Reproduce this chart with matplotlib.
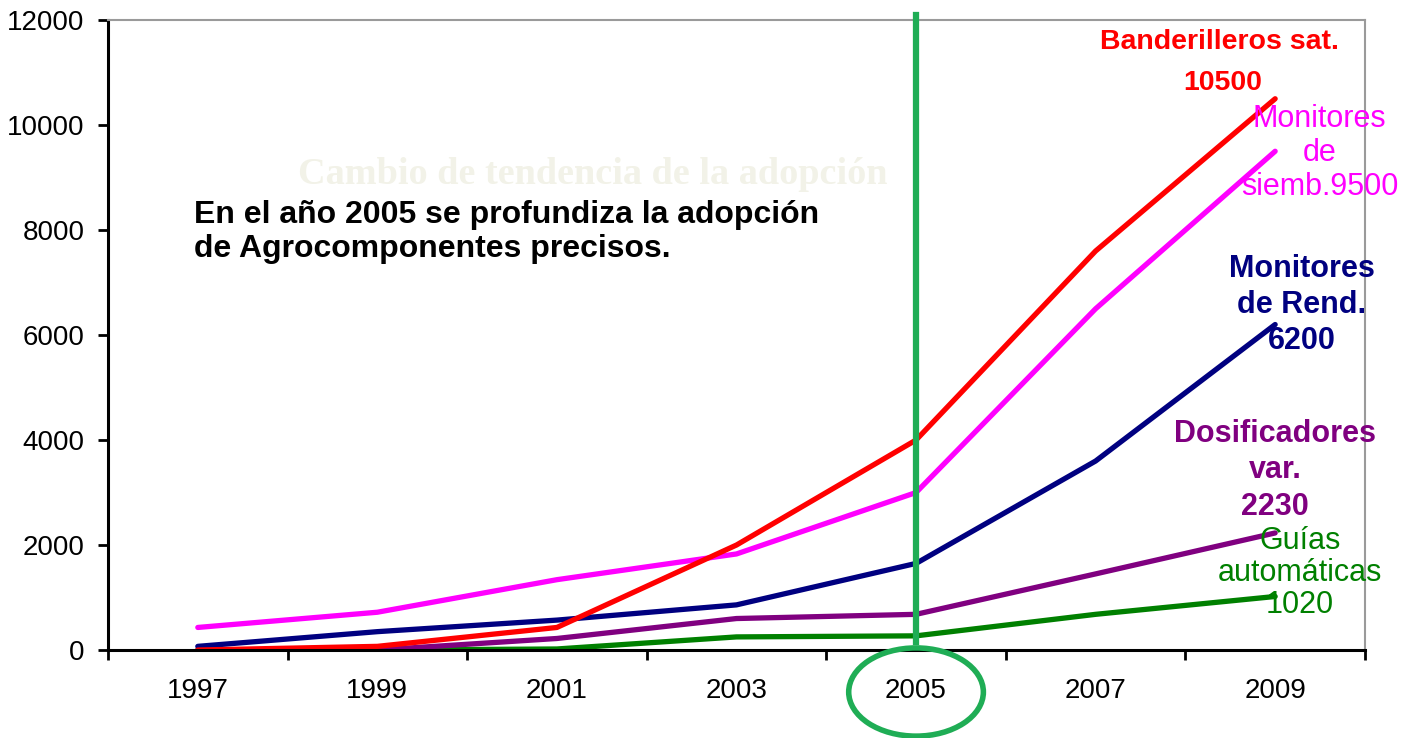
import matplotlib
matplotlib.use("Agg")
import matplotlib.pyplot as plt
from matplotlib.patches import Ellipse
from matplotlib.ticker import FixedLocator

plt.rcParams["font.family"] = ["Liberation Sans", "DejaVu Sans"]

# data
years = ["1997", "1999", "2001", "2003", "2005", "2007", "2009"]
banderilleros = [0, 70, 430, 2000, 4000, 7600, 10500]
monitores_siembra = [430, 720, 1340, 1830, 3000, 6500, 9500]
monitores_rend = [70, 350, 570, 860, 1650, 3600, 6200]
dosificadores = [0, 0, 220, 600, 680, 1450, 2230]
guias = [0, 0, 20, 250, 270, 680, 1020]
y_ticks = [0, 2000, 4000, 6000, 8000, 10000, 12000]

highlight_year = "2005"
accent = "#1FAD55"

fig = plt.figure(figsize=(14.14, 7.38), dpi=100)
ax = fig.add_axes([0.0764, 0.1192, 0.8889, 0.8537])

x = list(range(len(years)))
series = [
    (banderilleros, "#FF0000"),
    (monitores_siembra, "#FF00FF"),
    (monitores_rend, "#000080"),
    (dosificadores, "#800080"),
    (guias, "#008000"),
]
# draw back to front so purple sits over green at zero
for vals, col in reversed(series):
    ax.plot(x, vals, color=col, lw=3.8, solid_capstyle="round", solid_joinstyle="round")

ax.set_xlim(-0.5, len(years) - 0.5)
ax.set_ylim(0, 12000)
ax.set_xticks(x)
ax.set_xticklabels(years, fontsize=20)
ax.xaxis.set_minor_locator(FixedLocator([i - 0.5 for i in range(len(years) + 1)]))
ax.tick_params(axis="x", which="major", length=0, pad=20)
ax.tick_params(axis="x", which="minor", length=7, width=2, direction="out")
ax.set_yticks(y_ticks)
ax.set_yticklabels([str(v) for v in y_ticks], fontsize=20)
ax.tick_params(axis="y", length=7, width=2, pad=10)

for side in ["left", "bottom"]:
    ax.spines[side].set_linewidth(2.2)
    ax.spines[side].set_color("black")
for side in ["top", "right"]:
    ax.spines[side].set_linewidth(1.5)
    ax.spines[side].set_color("#9a9a9a")

# 2005 marker line and circle round the tick label
hx = years.index(highlight_year)
ax.plot([hx, hx], [150, 12100], color=accent, lw=4.5, clip_on=False, zorder=5)
ax.add_patch(Ellipse((hx, -800), 0.75, 1680, fill=False, edgecolor=accent,
                     lw=4, clip_on=False, zorder=5))

# faded title and the annotation
ax.text(2.2, 9050, "Cambio de tendencia de la adopción", fontsize=27.5,
        family="Liberation Serif", weight="bold", color="#F2F2E8", ha="center", va="center")
ax.text(-0.02, 8570, "En el año 2005 se profundiza la adopción\nde Agrocomponentes precisos.",
        fontsize=23, weight="bold", color="black", ha="left", va="top", linespacing=1.15)

# labels at the end of each line
last = len(years) - 1
ax.annotate("Banderilleros sat.", (last, banderilleros[-1]), xytext=(-40, 41),
            textcoords="offset points", ha="center", va="center",
            fontsize=20.5, weight="bold", color="#FF0000")
ax.annotate(str(banderilleros[-1]), (last, banderilleros[-1]), xytext=(-38, 11),
            textcoords="offset points", ha="center", va="center",
            fontsize=20.5, weight="bold", color="#FF0000")
ax.annotate("Monitores\nde\nsiemb.9500", (last, monitores_siembra[-1]), xytext=(32, -1),
            textcoords="offset points", ha="center", va="center", multialignment="center",
            fontsize=22, color="#FF00FF", linespacing=1.18)
ax.annotate("Monitores\nde Rend.\n6200", (last, monitores_rend[-1]), xytext=(19, 14),
            textcoords="offset points", ha="center", va="center", multialignment="center",
            fontsize=22, weight="bold", color="#000080", linespacing=1.25)
ax.annotate("Dosificadores\nvar.\n2230", (last, dosificadores[-1]), xytext=(0, 45),
            textcoords="offset points", ha="center", va="center", multialignment="center",
            fontsize=22, weight="bold", color="#800080", linespacing=1.27)
ax.annotate("Guías\nautomáticas\n1020", (last, guias[-1]), xytext=(18, 17),
            textcoords="offset points", ha="center", va="center", multialignment="center",
            fontsize=22, color="#008000", linespacing=1.1)

fig.savefig("out.png", dpi=100, facecolor="white")
